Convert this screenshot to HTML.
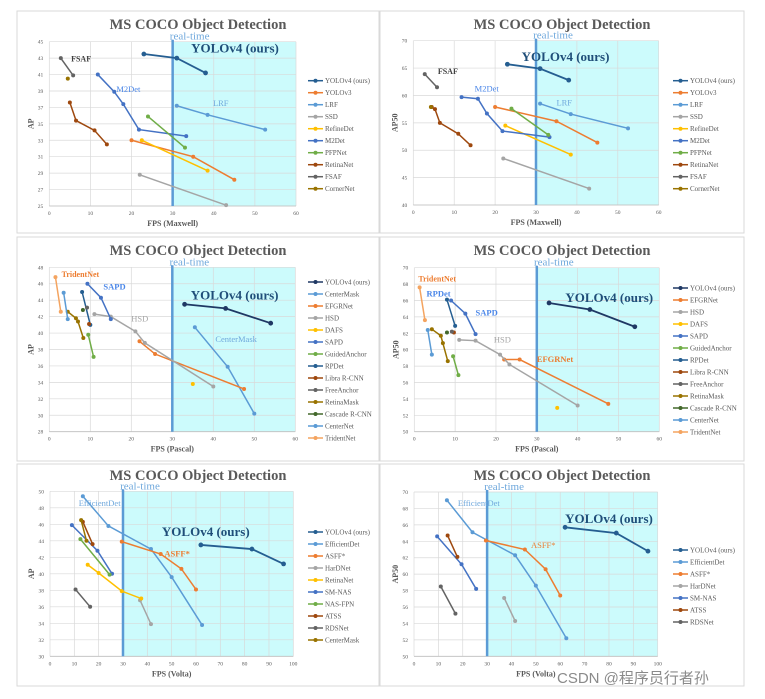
<!DOCTYPE html>
<html><head><meta charset="utf-8">
<style>
body{margin:0;background:#fff;width:765px;height:699px;overflow:hidden;position:relative;font-family:"Liberation Serif",serif}
svg{position:absolute;left:0;top:0}
.wm{position:absolute;left:557px;top:667px;font:15px "Liberation Sans","Noto Sans CJK SC",sans-serif;color:#8a8a8a}
</style></head><body>
<svg id="chart" width="765" height="699" xmlns="http://www.w3.org/2000/svg"></svg>
<div class="wm">CSDN @程序员行者孙</div>
<script>
// ---- Panel data ----
const p1Names=["YOLOv4 (ours)","YOLOv3","LRF","SSD","RefineDet","M2Det","PFPNet","RetinaNet","FSAF","CornerNet"];
const p1Colors=["#255e91","#ed7d31","#5b9bd5","#a5a5a5","#ffc000","#4472c4","#70ad47","#9e480e","#636363","#997300"];
const p1X=[[23,31,38],[20,35,45],[31,38.5,52.5],[22,43],[22.5,38.5],[11.8,15.8,18,21.8,33.3],[24,33],[5,6.5,11,14],[2.8,5.8],[4.5]];
const p1Y=[[43.5,43,41.2],[33,31,28.2],[37.2,36.1,34.3],[28.8,25.1],[33,29.3],[41,38.9,37.4,34.3,33.5],[35.9,32.1],[37.6,35.4,34.2,32.5],[43,40.9],[40.5]];
const p1Ticks=[25,27,29,31,33,35,37,39,41,43,45];

const p2X=[[23,31,38],[20,35,45],[31,38.5,52.5],[22,43],[22.5,38.5],[11.8,15.8,18,21.8,33.3],[24,33],[4.5,5.3,6.5,11,14],[2.8,5.8],[4.3]];
const p2Y=[[65.7,64.9,62.8],[57.9,55.3,51.4],[58.5,56.6,54],[48.5,43],[54.5,49.2],[59.7,59.4,56.7,53.5,52.4],[57.6,52.8],[57.9,57.5,55,53,50.9],[63.9,61.5],[57.9]];
const p2Ticks=[40,45,50,55,60,65,70];

const p3Names=["YOLOv4 (ours)","CenterMask","EFGRNet","HSD","DAFS","SAPD","GuidedAnchor","RPDet","Libra R-CNN","FreeAnchor","RetinaMask","Cascade R-CNN","CenterNet","TridentNet"];
const p3Colors=["#1f3864","#5b9bd5","#ed7d31","#a5a5a5","#ffc000","#4472c4","#70ad47","#255e91","#9e480e","#636363","#997300","#43682b","#5b9bd5","#f4a460"];
const p3X=[[33,43,54],[35.5,43.5,50],[22,25.8,47.5],[11,15,21,23.3,40],[35],[9.3,12.6,15],[9.5,10.8],[8,10],[9.7],[9.2],[4.5,6.5,7,8.3],[8.2],[3.5,4.5],[1.5,2.8]];
const p3Y=[[43.5,43,41.2],[40.7,35.9,30.2],[39,37.45,33.2],[42.3,42,40.2,38.8,33.5],[33.8],[46,44.3,41.7],[39.8,37.1],[45,41],[41.1],[43.1],[42.6,41.8,41.4,39.4],[42.8],[44.9,41.7],[46.8,42.6]];
const p3Ticks=[28,30,32,34,36,38,40,42,44,46,48];

const p4Names=["YOLOv4 (ours)","EFGRNet","HSD","DAFS","SAPD","GuidedAnchor","RPDet","Libra R-CNN","FreeAnchor","RetinaMask","Cascade R-CNN","CenterNet","TridentNet"];
const p4Colors=["#1f3864","#ed7d31","#a5a5a5","#ffc000","#4472c4","#70ad47","#255e91","#9e480e","#636363","#997300","#43682b","#5b9bd5","#f4a460"];
const p4X=[[33,43,54],[22,25.8,47.5],[11,15,21,23.3,40],[35],[9,12.5,15],[9.5,10.8],[8,10],[9.7],[9.2],[4.3,6.5,7,8.2],[8],[3.3,4.3],[1.3,2.6]];
const p4Y=[[65.7,64.9,62.8],[58.8,58.8,53.4],[61.2,61.1,59.4,58.2,53.2],[52.9],[66,64.4,61.9],[59.2,56.9],[66.1,62.9],[62.1],[62.2],[62.5,61.7,60.8,58.6],[62.1],[62.4,59.4],[67.6,63.6]];
const p4Ticks=[50,52,54,56,58,60,62,64,66,68,70];

const p5Names=["YOLOv4 (ours)","EfficientDet","ASFF*","HarDNet","RetinaNet","SM-NAS","NAS-FPN","ATSS","RDSNet","CenterMask"];
const p5Colors=["#255e91","#5b9bd5","#ed7d31","#a5a5a5","#ffc000","#4472c4","#70ad47","#9e480e","#636363","#997300"];
const p5X=[[62,83,96],[13.5,24,41.5,50,62.5],[29.5,45.5,54,60],[37,41.5],[15.5,20,29.5,37.5],[9,19.5,25.5],[12.5,24.5],[13.5,17.5],[10.5,16.5],[12.8,15]];
const p5Y=[[43.5,43,41.2],[49.4,45.8,43,39.6,33.8],[43.9,42.4,40.6,38.1],[36.8,33.9],[41.1,40.1,37.9,37],[45.9,42.8,40],[44.2,39.9],[46.3,43.6],[38.1,36],[46.5,44]];
const p5Ticks=[30,32,34,36,38,40,42,44,46,48,50];

const p6Names=["YOLOv4 (ours)","EfficientDet","ASFF*","HarDNet","SM-NAS","ATSS","RDSNet"];
const p6Colors=["#255e91","#5b9bd5","#ed7d31","#a5a5a5","#4472c4","#9e480e","#636363"];
const p6X=[[62,83,96],[13.5,24,41.5,50,62.5],[29.5,45.5,54,60],[37,41.5],[9.5,19.5,25.5],[13.8,17.8],[11,17]];
const p6Y=[[65.7,65,62.8],[69,65.1,62.3,58.6,52.2],[64.1,63,60.6,57.4],[57.1,54.3],[64.6,61.2,58.2],[64.7,62.1],[58.5,55.2]];
const p6Ticks=[50,52,54,56,58,60,62,64,66,68,70];

const xTicks60=[0,10,20,30,40,50,60];
const xTicks100=[0,10,20,30,40,50,60,70,80,90,100];

const NS="http://www.w3.org/2000/svg";
const svg=document.getElementById('chart');
function mk(tag,attrs,parent,text){const e=document.createElementNS(NS,tag);for(const k in attrs)e.setAttribute(k,attrs[k]);if(text!==undefined)e.textContent=text;(parent||svg).appendChild(e);return e;}

function panel(cfg){
  const g=mk('g',{});
  
  
  const bx=mk('rect',{x:cfg.box[0],y:cfg.box[1],width:cfg.box[2],height:cfg.box[3],fill:'#fff',stroke:'#d9d9d9','stroke-width':1},g);
  
  
  const [L,T,R,B]=cfg.plot;
  const xmin=cfg.xt[0],xmax=cfg.xt[cfg.xt.length-1],ymin=cfg.yt[0],ymax=cfg.yt[cfg.yt.length-1];
  const sx=v=>L+(v-xmin)/(xmax-xmin)*(R-L);
  const sy=v=>B-(v-ymin)/(ymax-ymin)*(B-T);
  // real-time region
  const rt=mk('rect',{x:sx(30),y:T,width:R-sx(30),height:B-T,fill:'#ccfbfc'},g);
  
  
  // gridlines
  cfg.yt.forEach(t=>{
    mk('line',{x1:L,x2:R,y1:sy(t),y2:sy(t),stroke:'#d9d9d9','stroke-width':0.7},g);
    const tl=mk('text',{x:L-6,y:sy(t)+2,'font-size':5.5,'text-anchor':'end',fill:'#595959'},g,t);
    
    
  });
  cfg.xt.forEach(t=>{
    mk('line',{x1:sx(t),x2:sx(t),y1:T,y2:B,stroke:'#d9d9d9','stroke-width':0.7},g);
    const tl=mk('text',{x:sx(t),y:B+9,'font-size':5.5,'text-anchor':'middle',fill:'#595959'},g,t);
    
    
  });
  mk('line',{x1:L,x2:R,y1:B,y2:B,stroke:'#bfbfbf','stroke-width':0.8},g);
  // real-time line
  const rl=mk('line',{x1:sx(30),x2:sx(30),y1:T-2,y2:B,stroke:'#5b9bd5','stroke-width':2.5},g);
  
  
  const rtt=mk('text',{x:sx(30)+17,y:T-2,'font-size':11,'text-anchor':'middle',fill:'#6fa8dc'},g,'real-time');
  
  
  // title
  const tt=mk('text',{x:cfg.titleX,y:cfg.titleY,'font-size':14.5,'font-weight':'bold','text-anchor':'middle',fill:'#595959'},g,'MS COCO Object Detection');
  
  
  // axis titles
  const xa=mk('text',{x:(L+R)/2,y:B+20,'font-size':8,'font-weight':'bold','text-anchor':'middle',fill:'#595959'},g,cfg.xLabel);
  
  
  const ya=mk('text',{x:0,y:0,'font-size':8,'font-weight':'bold','text-anchor':'middle',fill:'#595959',transform:`translate(${L-16},${(T+B)/2}) rotate(-90)`},g,cfg.yLabel);
  
  
  // series
  cfg.names.forEach((n,i)=>{
    const xs=cfg.X[i],ys=cfg.Y[i],c=cfg.colors[i];
    const sg=mk('g',{},g);
    
    
    if(xs.length>1){
      const pl=mk('polyline',{points:xs.map((x,j)=>sx(x)+','+sy(ys[j])).join(' '),fill:'none',stroke:c,'stroke-width':i===0?1.8:1.5},sg);
      
      
    }
    xs.forEach((x,j)=>{
      const pt=mk('circle',{cx:sx(x),cy:sy(ys[j]),r:i===0?2.4:2,fill:c},sg);
      
      
    });
    // legend
    const ly=cfg.legY+i*12;
    const lg=mk('g',{},g);
    
    
    mk('line',{x1:cfg.legX,x2:cfg.legX+15,y1:ly,y2:ly,stroke:c,'stroke-width':1.5},lg);
    mk('circle',{cx:cfg.legX+7.5,cy:ly,r:2,fill:c},lg);
    mk('text',{x:cfg.legX+17,y:ly+2.5,'font-size':7,fill:'#595959'},lg,n);
  });
  // annotations
  cfg.notes.forEach(a=>{
    const t=mk('text',{x:sx(a[1]),y:sy(a[2]),'font-size':a[4],'font-weight':a[5]?'bold':'normal',fill:a[3]},g,a[0]);
    
    
  });
}

const DK="#1f4e79",BL="#4a86e8",LB="#6fa8dc",OR="#ed7d31",GR="#a5a5a5",DG="#404040";
panel({id:'panel-ap-maxwell',box:[17,11,362,222],plot:[49.3,41.7,296,206],xt:xTicks60,yt:p1Ticks,titleX:198,titleY:29,xLabel:'FPS (Maxwell)',yLabel:'AP',
  names:p1Names,colors:p1Colors,X:p1X,Y:p1Y,legX:308,legY:80.7,
  notes:[['FSAF',5.3,42.6,DG,8,1],['M2Det',16.3,38.9,BL,8.5,0],['YOLOv4 (ours)',34.5,43.7,DK,13,1],['LRF',39.8,37.2,LB,8.5,0]]});
panel({id:'panel-ap50-maxwell',box:[380,11,364,222],plot:[413.3,40.7,658.7,205],xt:xTicks60,yt:p2Ticks,titleX:562,titleY:29,xLabel:'FPS (Maxwell)',yLabel:'AP50',
  names:p1Names,colors:p1Colors,X:p2X,Y:p2Y,legX:673,legY:80.7,
  notes:[['FSAF',6,63.9,DG,8,1],['M2Det',15,60.7,BL,8.5,0],['YOLOv4 (ours)',26.5,66.3,DK,13,1],['LRF',35,58.2,LB,8.5,0]]});
panel({id:'panel-ap-pascal',box:[17,237,362,224],plot:[49.3,267.3,295.3,431.7],xt:xTicks60,yt:p3Ticks,titleX:198,titleY:255,xLabel:'FPS (Pascal)',yLabel:'AP',
  names:p3Names,colors:p3Colors,X:p3X,Y:p3Y,legX:308,legY:282,
  notes:[['TridentNet',3,46.8,OR,8,1],['SAPD',13.2,45.3,BL,8.5,1],['HSD',20,41.4,GR,8.5,0],['YOLOv4 (ours)',34.5,44.1,DK,13,1],['CenterMask',40.5,38.9,LB,8.5,0]]});
panel({id:'panel-ap50-pascal',box:[380,237,364,224],plot:[414.3,267.7,659.3,431.7],xt:xTicks60,yt:p4Ticks,titleX:562,titleY:255,xLabel:'FPS (Pascal)',yLabel:'AP50',
  names:p4Names,colors:p4Colors,X:p4X,Y:p4Y,legX:673,legY:288,
  notes:[['TridentNet',1,68.3,OR,8,1],['RPDet',3,66.5,BL,8.5,1],['SAPD',15,64.2,BL,8.5,1],['HSD',19.5,60.9,GR,8.5,0],['YOLOv4 (ours)',37,65.8,DK,13,1],['EFGRNet',30,58.5,OR,8.5,1]]});
panel({id:'panel-ap-volta',box:[17,464,362,222],plot:[50,491.3,293.3,656.3],xt:xTicks100,yt:p5Ticks,titleX:198,titleY:480,xLabel:'FPS (Volta)',yLabel:'AP',
  names:p5Names,colors:p5Colors,X:p5X,Y:p5Y,legX:308,legY:532,
  notes:[['EfficientDet',11.8,48.2,LB,8.5,0],['ASFF*',47,42.1,OR,8.5,1],['YOLOv4 (ours)',46,44.6,DK,13,1]]});
panel({id:'panel-ap50-volta',box:[380,464,364,222],plot:[414,492,657.7,656.3],xt:xTicks100,yt:p6Ticks,titleX:562,titleY:480,xLabel:'FPS (Volta)',yLabel:'AP50',
  names:p6Names,colors:p6Colors,X:p6X,Y:p6Y,legX:673,legY:550,
  notes:[['EfficientDet',18,68.3,LB,8.5,0],['ASFF*',48,63.2,OR,8.5,0],['YOLOv4 (ours)',62,66.2,DK,13,1]]});
</script>
</body></html>
